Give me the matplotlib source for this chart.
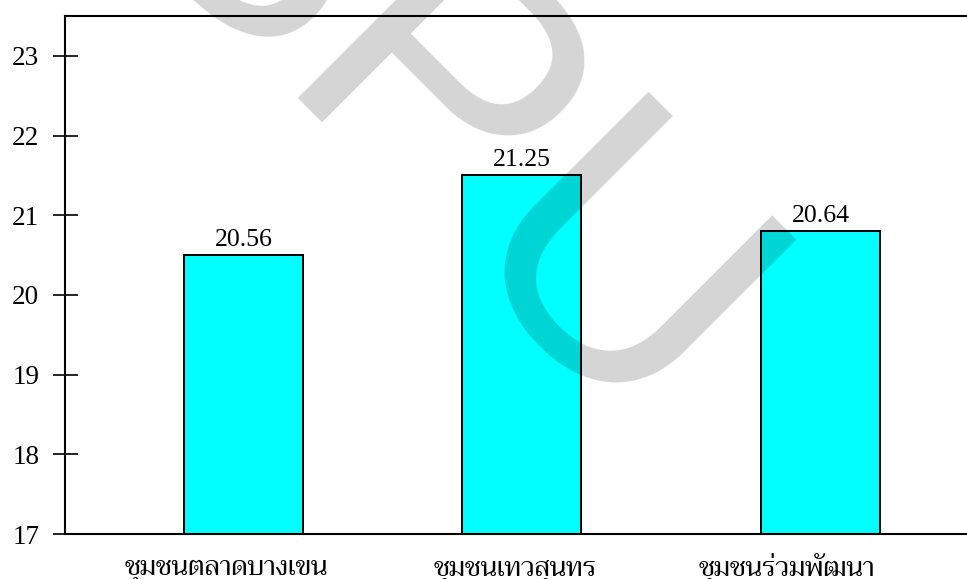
import matplotlib
matplotlib.use("Agg")
import matplotlib.pyplot as plt
from matplotlib import font_manager

communities = ["ชุมชนตลาดบางเขน", "ชุมชนเทวสุนทร", "ชุมชนร่วมพัฒนา"]
bar_heights = [20.5, 21.5, 20.8]
value_labels = ["20.56", "21.25", "20.64"]
y_ticks = [17, 18, 19, 20, 21, 22, 23]

# fuente tailandesa: la primera instalada de la lista
installed = {f.name for f in font_manager.fontManager.ttflist}
thai_font = next((n for n in ["Trirong", "Taviraj", "Sarabun", "Noto Serif Thai", "Noto Sans Thai"]
                  if n in installed), "DejaVu Sans")

plt.rcParams["font.family"] = ["Liberation Serif", thai_font]

fig = plt.figure(figsize=(9.67, 5.79), dpi=100)
ax = fig.add_axes([65 / 967, 45 / 579, 910 / 967, 518 / 579])

x_pos = [0, 1, 2.076]
label_pos = [-0.063, 0.977, 1.955]
bars = ax.bar(x_pos, bar_heights, width=0.428, color="#00ffff", edgecolor="black", linewidth=1.4)
for bar, label in zip(bars, value_labels):
    ax.annotate(label, (bar.get_x() + bar.get_width() / 2, bar.get_height()),
                xytext=(0, 3), textcoords="offset points", ha="center", va="bottom", fontsize=18.5)

ax.set_xlim(-0.642, 2.631)
ax.set_ylim(17, 23.5)
ax.set_yticks(y_ticks)
ax.set_xticks(label_pos)
ax.set_xticklabels(communities, family=[thai_font], fontsize=19.5)
ax.tick_params(axis="y", direction="inout", length=18, width=1.2, labelsize=19.5, pad=9.5)
ax.tick_params(axis="x", length=0, pad=29.5)
for lbl in ax.get_xticklabels():
    lbl.set_verticalalignment("baseline")
for side in ax.spines.values():
    side.set_linewidth(1.5)

# marca de agua
fig.text(432 / 967, 1 - 116 / 579, "SPU", rotation=-45, ha="center", va="center",
         fontsize=265, family="Liberation Sans", color="black", alpha=0.17, zorder=10)

fig.savefig("out.png", dpi=100)
